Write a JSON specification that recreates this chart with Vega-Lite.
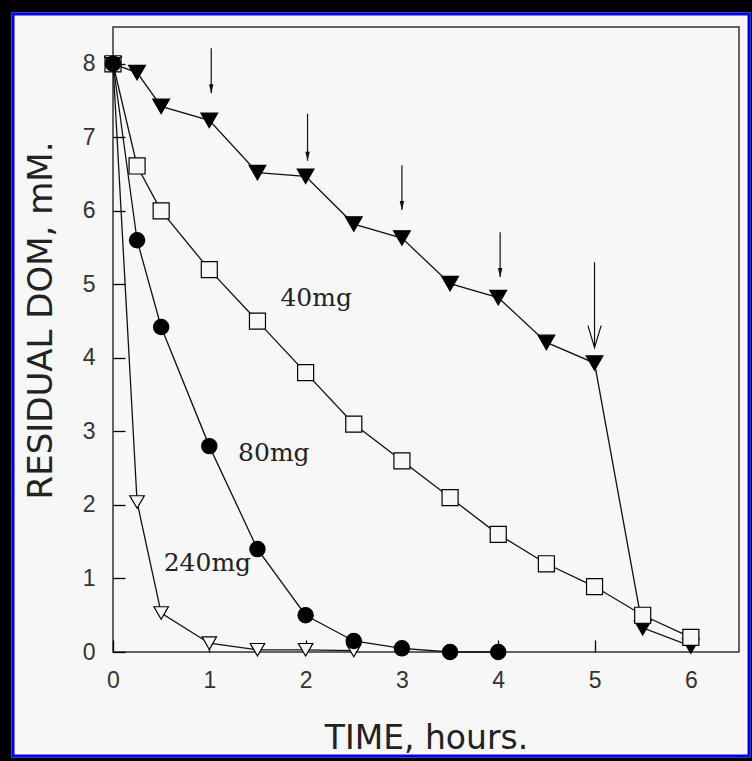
{
  "$schema": "https://vega.github.io/schema/vega-lite/v6.json",
  "width": 626,
  "height": 625,
  "autosize": {"type": "none"},
  "padding": {"left": 113, "top": 27, "right": 13, "bottom": 109},
  "background": "#f7f7f7",
  "config": {
    "view": {"stroke": "#333333", "strokeWidth": 1.5, "fill": "#f7f7f7"},
    "axis": {
      "grid": false,
      "domain": false,
      "ticks": true,
      "tickColor": "#000000",
      "tickWidth": 1.3,
      "tickSize": 12,
      "offset": -12,
      "labelFont": "Liberation Sans",
      "labelFontSize": 23,
      "labelColor": "#333333",
      "labelFlush": false,
      "labelOverlap": false,
      "format": "d",
      "titleFont": "DejaVu Sans",
      "titleFontSize": 33,
      "titleFontWeight": "normal",
      "titleColor": "#222222",
      "zindex": 1
    }
  },
  "datasets": {
    "series": [
      {"series": "repeated", "time": 0, "dom": 8.0},
      {"series": "repeated", "time": 0.25, "dom": 7.88},
      {"series": "repeated", "time": 0.5, "dom": 7.42},
      {"series": "repeated", "time": 1, "dom": 7.23},
      {"series": "repeated", "time": 1.5, "dom": 6.52},
      {"series": "repeated", "time": 2, "dom": 6.47},
      {"series": "repeated", "time": 2.5, "dom": 5.82},
      {"series": "repeated", "time": 3, "dom": 5.63},
      {"series": "repeated", "time": 3.5, "dom": 5.01},
      {"series": "repeated", "time": 4, "dom": 4.82},
      {"series": "repeated", "time": 4.5, "dom": 4.21},
      {"series": "repeated", "time": 5, "dom": 3.93},
      {"series": "repeated", "time": 5.5, "dom": 0.33},
      {"series": "repeated", "time": 6, "dom": 0.08},
      {"series": "40mg", "time": 0, "dom": 8.0},
      {"series": "40mg", "time": 0.25, "dom": 6.61},
      {"series": "40mg", "time": 0.5, "dom": 6.0},
      {"series": "40mg", "time": 1, "dom": 5.2},
      {"series": "40mg", "time": 1.5, "dom": 4.5},
      {"series": "40mg", "time": 2, "dom": 3.8},
      {"series": "40mg", "time": 2.5, "dom": 3.1},
      {"series": "40mg", "time": 3, "dom": 2.6},
      {"series": "40mg", "time": 3.5, "dom": 2.1},
      {"series": "40mg", "time": 4, "dom": 1.6},
      {"series": "40mg", "time": 4.5, "dom": 1.2},
      {"series": "40mg", "time": 5, "dom": 0.89},
      {"series": "40mg", "time": 5.5, "dom": 0.5},
      {"series": "40mg", "time": 6, "dom": 0.2},
      {"series": "240mg", "time": 0, "dom": 8.0},
      {"series": "240mg", "time": 0.25, "dom": 2.04},
      {"series": "240mg", "time": 0.5, "dom": 0.53},
      {"series": "240mg", "time": 1, "dom": 0.12},
      {"series": "240mg", "time": 1.5, "dom": 0.03},
      {"series": "240mg", "time": 2, "dom": 0.03},
      {"series": "240mg", "time": 2.5, "dom": 0.02},
      {"series": "80mg", "time": 0, "dom": 8.0},
      {"series": "80mg", "time": 0.25, "dom": 5.6},
      {"series": "80mg", "time": 0.5, "dom": 4.42},
      {"series": "80mg", "time": 1, "dom": 2.8},
      {"series": "80mg", "time": 1.5, "dom": 1.4},
      {"series": "80mg", "time": 2, "dom": 0.5},
      {"series": "80mg", "time": 2.5, "dom": 0.15},
      {"series": "80mg", "time": 3, "dom": 0.05},
      {"series": "80mg", "time": 3.5, "dom": 0.0},
      {"series": "80mg", "time": 4, "dom": 0.0}
    ],
    "arrows": [
      {"time": 1.02, "top": 8.21, "tip": 7.6, "head": "small"},
      {"time": 2.02, "top": 7.32, "tip": 6.68, "head": "small"},
      {"time": 3.0, "top": 6.62, "tip": 6.01, "head": "small"},
      {"time": 4.02, "top": 5.71, "tip": 5.1, "head": "small"},
      {"time": 5.0, "top": 5.3, "tip": 4.14, "head": "open"}
    ],
    "labels": [
      {"time": 2.11, "dom": 4.7, "label": "40mg"},
      {"time": 1.67, "dom": 2.6, "label": "80mg"},
      {"time": 0.98, "dom": 1.1, "label": "240mg"}
    ]
  },
  "layer": [
    {
      "data": {"values": [{}]},
      "mark": {"type": "rect", "fill": null, "stroke": "#000000", "strokeWidth": 24},
      "encoding": {
        "x": {"datum": -1.179, "type": "quantitative"},
        "x2": {"datum": 6.744},
        "y": {"datum": 8.862, "type": "quantitative"},
        "y2": {"datum": -1.598}
      }
    },
    {
      "data": {"values": [{}]},
      "mark": {"type": "rect", "fill": null, "stroke": "#0000ee", "strokeWidth": 3},
      "encoding": {
        "x": {"datum": -1.038, "type": "quantitative"},
        "x2": {"datum": 6.604},
        "y": {"datum": 8.677, "type": "quantitative"},
        "y2": {"datum": -1.414}
      }
    },
    {
      "data": {"name": "series"},
      "mark": {"type": "line", "color": "#111111", "strokeWidth": 1.3},
      "encoding": {
        "x": {
          "field": "time", "type": "quantitative",
          "scale": {"domain": [0, 6.5], "nice": false, "zero": false},
          "axis": {"values": [0, 1, 2, 3, 4, 5, 6], "labelPadding": 17, "title": "TIME, hours.", "titleBaseline": "alphabetic", "titleY": 108}
        },
        "y": {
          "field": "dom", "type": "quantitative",
          "scale": {"domain": [0, 8.5], "nice": false, "zero": false},
          "axis": {"values": [0, 1, 2, 3, 4, 5, 6, 7, 8], "labelPadding": 18, "title": "RESIDUAL DOM, mM.", "titleFontSize": 34, "titleAngle": 270, "titleBaseline": "alphabetic", "titleX": -74, "titleY": 293}
        },
        "detail": {"field": "series"}
      }
    },
    {
      "data": {"name": "arrows"},
      "mark": {"type": "rule", "color": "#111111", "strokeWidth": 1.2},
      "encoding": {
        "x": {"field": "time", "type": "quantitative"},
        "y": {"field": "top", "type": "quantitative"},
        "y2": {"field": "tip"}
      }
    },
    {
      "data": {"name": "arrows"},
      "transform": [{"filter": "datum.head === 'small'"}],
      "mark": {"type": "point", "shape": "M-0.25,-1L0,0L0.25,-1Z", "filled": true, "color": "#111111", "size": 324, "opacity": 1},
      "encoding": {
        "x": {"field": "time", "type": "quantitative"},
        "y": {"field": "tip", "type": "quantitative"}
      }
    },
    {
      "data": {"name": "arrows"},
      "transform": [{"filter": "datum.head === 'open'"}],
      "mark": {"type": "point", "shape": "M-0.3,-1L0,0L0.3,-1", "filled": false, "stroke": "#111111", "strokeWidth": 1.2, "size": 1936, "opacity": 1},
      "encoding": {
        "x": {"field": "time", "type": "quantitative"},
        "y": {"field": "tip", "type": "quantitative"}
      }
    },
    {
      "data": {"name": "series"},
      "mark": {"type": "point", "stroke": "#000000", "strokeWidth": 1.2, "opacity": 1, "fillOpacity": 1},
      "encoding": {
        "x": {"field": "time", "type": "quantitative"},
        "y": {"field": "dom", "type": "quantitative"},
        "shape": {"field": "series", "type": "nominal", "scale": {"domain": ["repeated", "40mg", "80mg", "240mg"], "range": ["triangle-down", "square", "circle", "triangle-down"]}, "legend": null},
        "fill": {"field": "series", "type": "nominal", "scale": {"domain": ["repeated", "40mg", "80mg", "240mg"], "range": ["#000000", "#f7f7f7", "#000000", "#f7f7f7"]}, "legend": null},
        "size": {"field": "series", "type": "nominal", "scale": {"domain": ["repeated", "40mg", "80mg", "240mg"], "range": [280, 210, 227, 256]}, "legend": null}
      }
    },
    {
      "data": {"name": "labels"},
      "mark": {"type": "text", "font": "DejaVu Serif", "fontSize": 25, "color": "#222222", "align": "center", "baseline": "alphabetic"},
      "encoding": {
        "x": {"field": "time", "type": "quantitative"},
        "y": {"field": "dom", "type": "quantitative"},
        "text": {"field": "label"}
      }
    }
  ]
}
